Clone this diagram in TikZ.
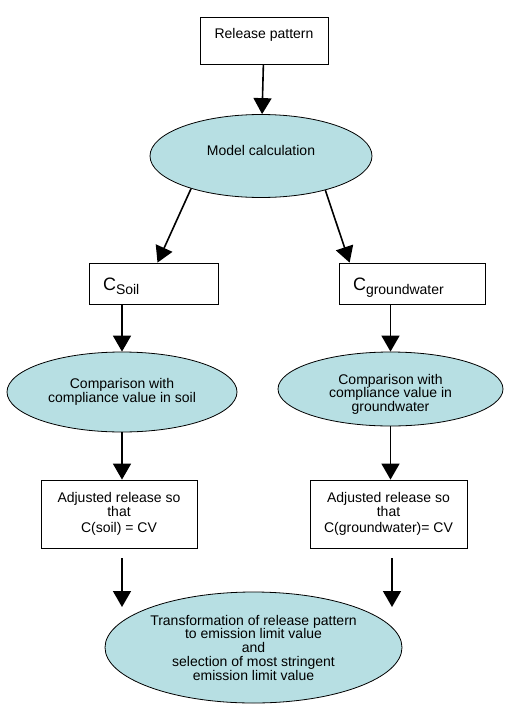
\documentclass[tikz,border=0pt]{standalone}
\usepackage{fontspec}
\setmainfont{Liberation Sans}
\usetikzlibrary{shapes.geometric,arrows.meta}
\definecolor{calcfill}{RGB}{183,223,227}

\begin{document}
\begin{tikzpicture}[x=1pt,y=-1pt,
        every node/.style={font=\fontsize{14}{13.75}\selectfont,align=center,inner sep=0pt},
        stepbox/.style={draw,line width=0.8pt,rectangle},
        calcbox/.style={draw,line width=0.8pt,ellipse,fill=calcfill},
        conc/.style={stepbox,minimum height=41pt,align=left,text height=20pt,text depth=7pt},
        flow/.style={-{Triangle[width=18pt,length=16pt]},line width=1.6pt}]
        \useasboundingbox (0,0) rectangle (528,720);
        % top of the chart
        \node[stepbox,minimum width=128pt,minimum height=47pt,text depth=15pt] (release) at (264,40.5) {Release pattern};
        \node[calcbox,minimum width=222pt,minimum height=83pt,text depth=12pt] (model) at (261,156) {Model calculation};
        % the two branches
        \node[conc,minimum width=129pt,text width=101pt] (csoil) at (153.5,283.5)
                {\fontsize{18}{18}\selectfont C\raisebox{-4pt}{\fontsize{14}{14}\selectfont Soil}};
        \node[conc,minimum width=146pt,text width=118pt] (cgw) at (412,283.5)
                {\fontsize{18}{18}\selectfont C\raisebox{-4pt}{\fontsize{14}{14}\selectfont groundwater}};
        \node[calcbox,minimum width=230pt,minimum height=80pt] (cmpsoil) at (122,392)
                {Comparison with\\compliance value in soil};
        \node[calcbox,minimum width=225pt,minimum height=74pt,text height=48pt] (cmpgw) at (390.5,389)
                {Comparison with\\compliance value in\\groundwater};
        \node[stepbox,minimum width=156pt,minimum height=68pt] (adjsoil) at (119,514)
                {Adjusted release so\\that\\[3pt]C(soil) = CV};
        \node[stepbox,minimum width=157pt,minimum height=68pt] (adjgw) at (388.5,514)
                {Adjusted release so\\that\\[3pt]C(groundwater)= CV};
        % bottom
        \node[calcbox,minimum width=297pt,minimum height=111pt] (elv) at (253.5,647.5)
                {Transformation of release pattern\\to emission limit value\\and\\selection of most stringent\\emission limit value};
        \coordinate (endsoil) at (122,607);
        \coordinate (endgw) at (392,607);
        \path[flow]
                (release) edge (model)
                (model.205) edge ([xshift=4pt]csoil.north)
                (model.332) edge ([xshift=11pt]cgw.north west)
                (csoil.south -| cmpsoil.north) edge (cmpsoil.north)
                (cgw.south -| cmpgw.north) edge (cmpgw.north)
                (cmpsoil.south) edge (cmpsoil.south |- adjsoil.north)
                (cmpgw.south) edge (cmpgw.south |- adjgw.north)
                (adjsoil.south -| endsoil) edge[shorten <=10pt] (endsoil)
                (adjgw.south -| endgw) edge[shorten <=10pt] (endgw);
\end{tikzpicture}
\end{document}
